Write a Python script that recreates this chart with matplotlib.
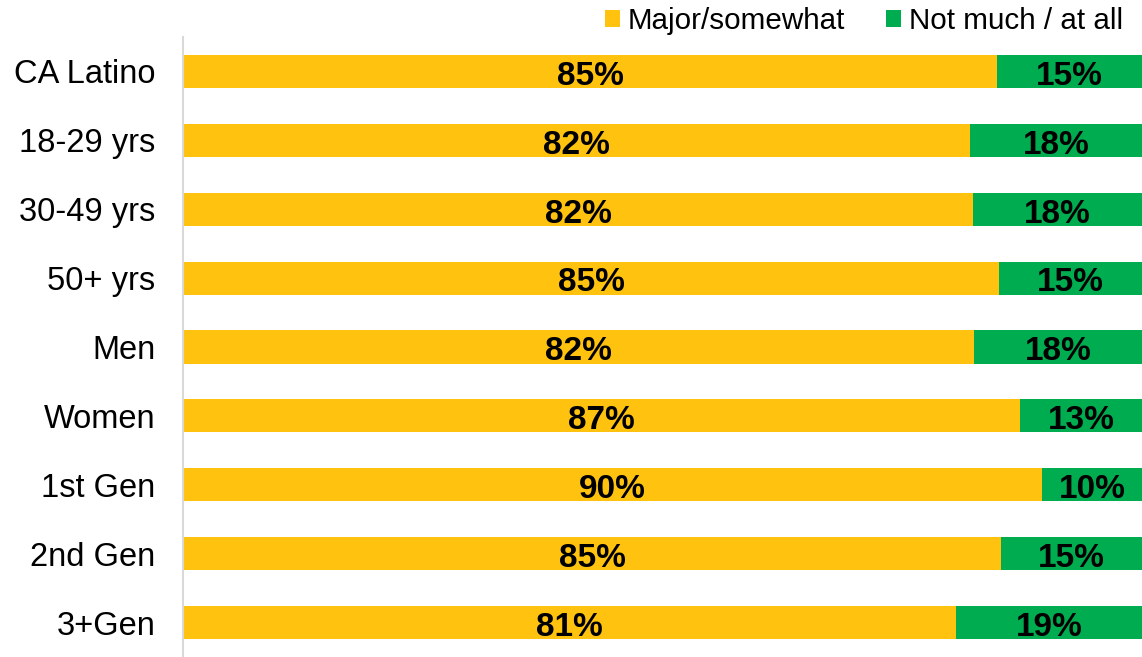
import numpy as np
import matplotlib
matplotlib.use("Agg")
import matplotlib.pyplot as plt

plt.rcParams['font.family'] = ['Liberation Sans', 'DejaVu Sans']

groups = ["CA Latino", "18-29 yrs", "30-49 yrs", "50+ yrs", "Men", "Women",
          "1st Gen", "2nd Gen", "3+Gen"]
major = [84.9, 82.1, 82.4, 85.1, 82.5, 87.3, 89.6, 85.3, 80.6]
not_much = [15.1, 17.9, 17.6, 14.9, 17.5, 12.7, 10.4, 14.7, 19.4]
major_lbl = ["85%", "82%", "82%", "85%", "82%", "87%", "90%", "85%", "81%"]
not_lbl = ["15%", "18%", "18%", "15%", "18%", "13%", "10%", "15%", "19%"]

yellow = "#FFC30F"
green = "#00AC50"

fig = plt.figure(figsize=(11.42, 6.57), dpi=100)
ax = fig.add_axes([183/1142, 0, 1 - 183/1142, 1 - 37/657])

y = np.arange(len(groups))
h = 0.48
b1 = ax.barh(y, major, height=h, color=yellow, label="Major/somewhat")
b2 = ax.barh(y, not_much, left=major, height=h, color=green, label="Not much / at all")

# value labels, nudged down a little to sit like the original
for i in range(len(groups)):
    ax.text(major[i]/2, y[i] + 0.07, major_lbl[i], ha='center', va='center',
            fontsize=24, fontweight='bold', color='black')
    ax.text(major[i] + not_much[i]/2, y[i] + 0.07, not_lbl[i], ha='center', va='center',
            fontsize=24, fontweight='bold', color='black')

ax.set_xlim(0, 100)
ax.set_ylim(8.5, -0.5)
ax.set_yticks(y)
ax.set_yticklabels(groups, fontsize=23.5)
ax.set_xticks([])
ax.tick_params(axis='y', length=0, pad=20)
for s in ['top', 'right', 'bottom']:
    ax.spines[s].set_visible(False)
ax.spines['left'].set_color('#D9D9D9')
ax.spines['left'].set_linewidth(1.5)

fig.legend(handles=[b1, b2], loc='upper right', bbox_to_anchor=(0.9935, 1.007),
           ncol=2, frameon=False, fontsize=21.3, handlelength=0.5, handleheight=0.5,
           handletextpad=0.25, columnspacing=1.4, borderaxespad=0)

fig.savefig("out.png", dpi=100)
